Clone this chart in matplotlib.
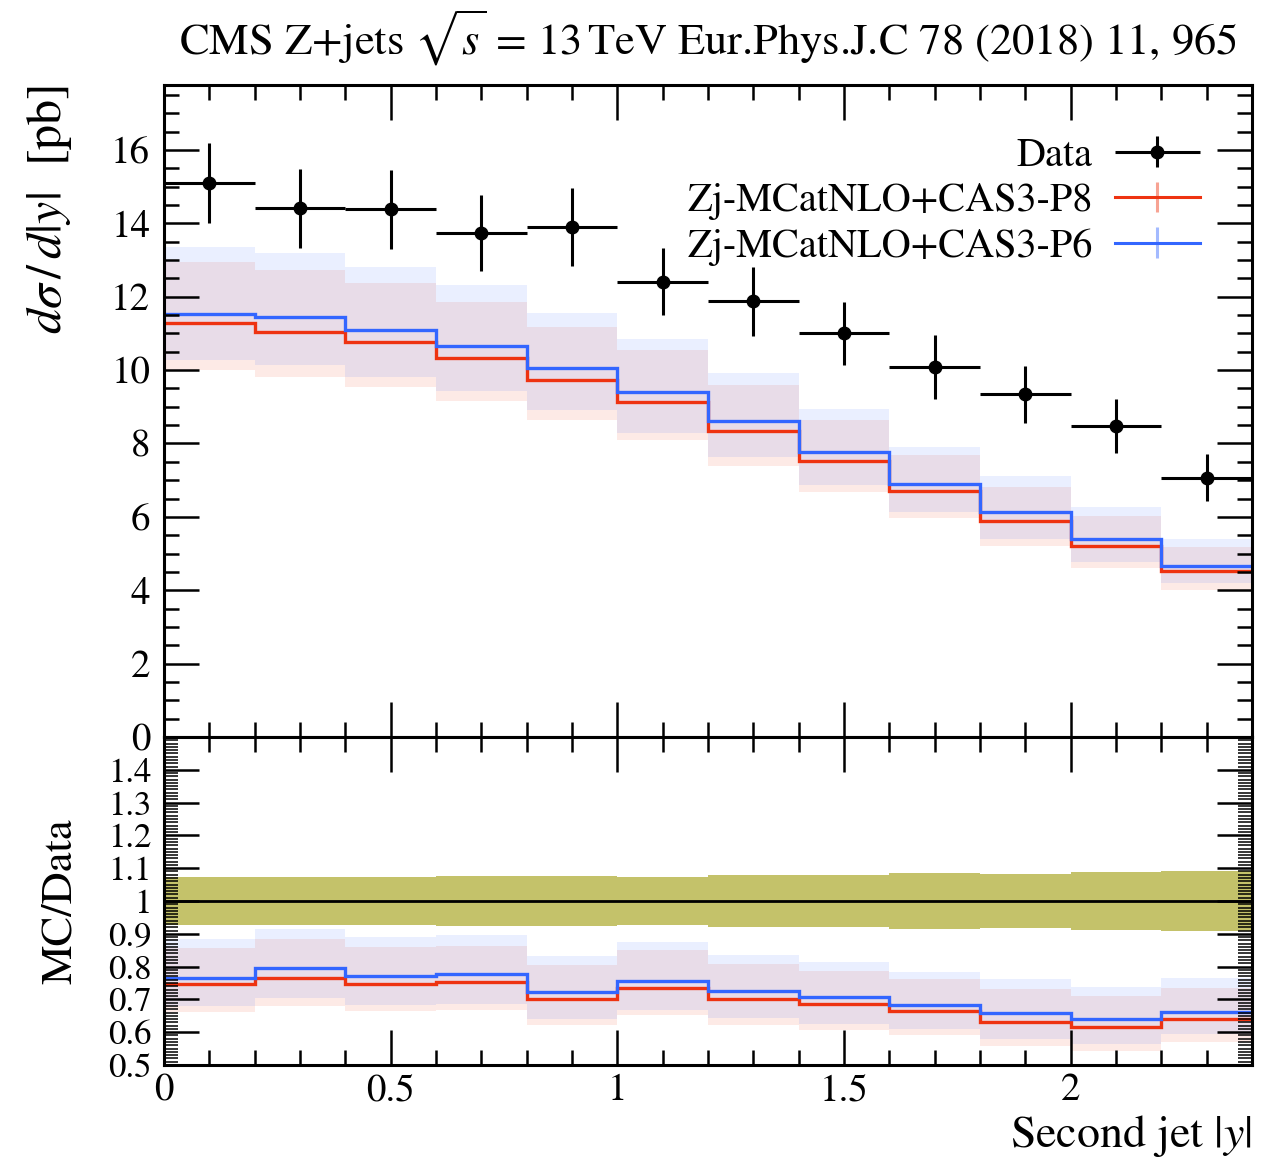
import numpy as np
import matplotlib
matplotlib.use('Agg')
import matplotlib.pyplot as plt
from matplotlib.ticker import MultipleLocator, FormatStrFormatter
from matplotlib.colors import to_rgba
from matplotlib.legend_handler import HandlerErrorbar

plt.rcParams['font.family'] = 'STIXGeneral'
plt.rcParams['mathtext.fontset'] = 'stix'

# second jet |y| bins
bin_edges = [0.0, 0.2, 0.4, 0.6, 0.8, 1.0, 1.2, 1.4, 1.6, 1.8, 2.0, 2.2, 2.4]
bin_centres = [0.1, 0.3, 0.5, 0.7, 0.9, 1.1, 1.3, 1.5, 1.7, 1.9, 2.1, 2.3]
bin_halfwidth = [0.1] * 12

# CMS data [pb]
data_val = [15.1, 14.41, 14.38, 13.73, 13.9, 12.41, 11.88, 11.0, 10.09, 9.34, 8.47, 7.06]
data_err = [1.1, 1.07, 1.07, 1.03, 1.05, 0.91, 0.94, 0.86, 0.87, 0.77, 0.74, 0.64]

# Zj-MCatNLO+CAS3-P8
p8_val = [11.27, 11.04, 10.76, 10.32, 9.73, 9.12, 8.34, 7.53, 6.71, 5.89, 5.21, 4.53]
p8_hi = [12.95, 12.74, 12.38, 11.86, 11.18, 10.54, 9.59, 8.64, 7.68, 6.82, 6.02, 5.19]
p8_lo = [10.0, 9.8, 9.55, 9.15, 8.63, 8.09, 7.38, 6.68, 5.97, 5.2, 4.6, 4.02]

# Zj-MCatNLO+CAS3-P6
p6_val = [11.54, 11.45, 11.09, 10.66, 10.05, 9.39, 8.61, 7.77, 6.89, 6.14, 5.41, 4.67]
p6_hi = [13.36, 13.18, 12.8, 12.32, 11.55, 10.85, 9.92, 8.94, 7.91, 7.11, 6.26, 5.41]
p6_lo = [10.27, 10.13, 9.8, 9.43, 8.9, 8.28, 7.63, 6.87, 6.14, 5.41, 4.78, 4.19]

red = '#ee3311'
blue = '#3366ff'
olive = '#c4c26a'

data = np.array(data_val)
derr = np.array(data_err)

W, H = 1272, 1163
fig = plt.figure(figsize=(W / 100, H / 100), dpi=100)
left, right = 164, 1252
top, mid, bottom = 85, 737, 1065
ax1 = fig.add_axes([left / W, (H - mid) / H, (right - left) / W, (mid - top) / H])
ax2 = fig.add_axes([left / W, (H - bottom) / H, (right - left) / W, (bottom - mid) / H], sharex=ax1)

# ---- main panel
for lo, hi, c in [(p8_lo, p8_hi, red), (p6_lo, p6_hi, blue)]:
    ax1.stairs(hi, bin_edges, baseline=lo, fill=True, color=c, alpha=0.1, lw=0)
ax1.stairs(p8_val, bin_edges, color=red, lw=2.4, baseline=None)
ax1.stairs(p6_val, bin_edges, color=blue, lw=2.4, baseline=None)
dat = ax1.errorbar(bin_centres, data_val, xerr=bin_halfwidth, yerr=data_err,
                   fmt='o', color='k', ms=9, elinewidth=2.2, capsize=0,
                   label='Data', zorder=5)

# legend proxies
h8 = ax1.errorbar([np.nan], [np.nan], yerr=[np.nan], fmt='-', color=red,
                  ecolor=to_rgba(red, 0.45), lw=2.2, elinewidth=2.2,
                  label='Zj-MCatNLO+CAS3-P8')
h6 = ax1.errorbar([np.nan], [np.nan], yerr=[np.nan], fmt='-', color=blue,
                  ecolor=to_rgba(blue, 0.45), lw=2.2, elinewidth=2.2,
                  label='Zj-MCatNLO+CAS3-P6')
hl = 2.1
ax1.legend(handles=[dat, h8, h6], loc='upper right', frameon=False,
           markerfirst=False, fontsize=29, handlelength=hl,
           handletextpad=0.55, labelspacing=0.2, borderpad=0,
           borderaxespad=1.3,
           handler_map={dat: HandlerErrorbar(xerr_size=hl / 2, yerr_size=0.38),
                        h8: HandlerErrorbar(yerr_size=0.38),
                        h6: HandlerErrorbar(yerr_size=0.38)})

ax1.set_xlim(0, 2.4)
ax1.set_ylim(0, 17.77)
ax1.yaxis.set_major_locator(MultipleLocator(2))
ax1.yaxis.set_minor_locator(MultipleLocator(0.5))
ax1.set_ylabel(r'$d\sigma\,/\,d|y|$  [pb]', fontsize=36, loc='top')
ax1.yaxis.set_label_coords(-0.083, 1.0)
ax1.set_title(r'CMS Z+jets $\sqrt{s}$ = 13$\,$TeV Eur.Phys.J.C 78 (2018) 11, 965',
              fontsize=32, pad=22)
plt.setp(ax1.get_xticklabels(), visible=False)

# ---- ratio panel
ratio8 = np.array(p8_val) / data
ratio6 = np.array(p6_val) / data
rel = derr / data
ax2.bar(bin_centres, 2 * rel, bottom=1 - rel, width=0.2, color=olive, lw=0)
ax2.axhline(1.0, color='k', lw=2)
for lo, hi, c in [(p8_lo, p8_hi, red), (p6_lo, p6_hi, blue)]:
    ax2.stairs(np.array(hi) / data, bin_edges, baseline=np.array(lo) / data,
               fill=True, color=c, alpha=0.1, lw=0)
ax2.stairs(ratio8, bin_edges, color=red, lw=2.4, baseline=None)
ax2.stairs(ratio6, bin_edges, color=blue, lw=2.4, baseline=None)

ax2.set_ylim(0.5, 1.5)
ax2.set_yticks([0.5, 0.6, 0.7, 0.8, 0.9, 1.0, 1.1, 1.2, 1.3, 1.4])
ax2.yaxis.set_minor_locator(MultipleLocator(0.01))
ax2.yaxis.set_major_formatter(FormatStrFormatter('%g'))
ax2.set_ylabel('MC/Data', fontsize=32)
ax2.yaxis.set_label_coords(-0.077, 0.5)
ax2.set_xlabel(r'Second jet $|y|$', fontsize=33, loc='right')
ax2.xaxis.set_label_coords(1.0, -0.146)

for ax in (ax1, ax2):
    ax.xaxis.set_major_locator(MultipleLocator(0.5))
    ax.xaxis.set_minor_locator(MultipleLocator(0.1))
    ax.xaxis.set_major_formatter(FormatStrFormatter('%g'))
    ax.tick_params(which='both', direction='in', top=True, right=True,
                   width=1.8, labelsize=28, pad=10)
    ax.tick_params(which='major', length=25)
    ax.tick_params(which='minor', length=11)
    for s in ax.spines.values():
        s.set_linewidth(2.2)
ax2.tick_params(axis='x', pad=6)
ax2.tick_params(axis='y', which='minor', length=10, width=1.1)
ax2.tick_params(axis='y', labelsize=25, pad=9)

fig.savefig('out.png', dpi=100)
